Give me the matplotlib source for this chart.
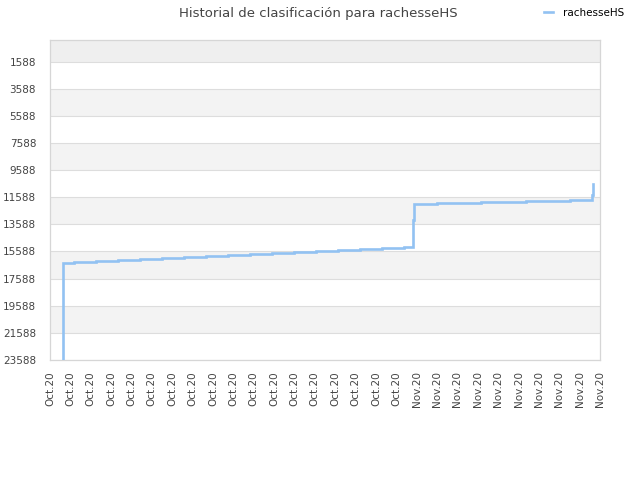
import matplotlib
matplotlib.use("Agg")
import matplotlib.pyplot as plt
import matplotlib.dates as mdates
import pandas as pd

# ---- data ----
dates = [
    "2020-10-14 14:55", "2020-10-14 15:00", "2020-10-15 04:15", "2020-10-16 06:10",
    "2020-10-17 08:07", "2020-10-18 10:02", "2020-10-19 11:57", "2020-10-20 13:52",
    "2020-10-21 15:48", "2020-10-22 17:43", "2020-10-23 19:38", "2020-10-24 21:33",
    "2020-10-25 23:28", "2020-10-27 01:24", "2020-10-28 03:19", "2020-10-29 05:14",
    "2020-10-30 07:09", "2020-10-31 09:04", "2020-10-31 19:26", "2020-10-31 20:24",
    "2020-11-01 23:31", "2020-11-04 03:50", "2020-11-06 08:24", "2020-11-08 12:43",
    "2020-11-09 14:38", "2020-11-09 15:50",
]
ranks = [
    23588, 16428, 16350, 16280,
    16205, 16130, 16058, 15985,
    15910, 15838, 15765, 15690,
    15618, 15545, 15470, 15398,
    15322, 15250, 13253, 12094,
    12020, 11946, 11872, 11798,
    11408, 10595,
]
series_name = "rachesseHS"
title = "Historial de clasificación para rachesseHS"
y_ticks = [1588, 3588, 5588, 7588, 9588, 11588, 13588, 15588, 17588, 19588, 21588, 23588]
x_start = "2020-10-14"
x_end = "2020-11-10"

# ---- figure ----
fig = plt.figure(figsize=(6.4, 4.8), dpi=100)
ax = fig.add_axes([50 / 640, 1 - 360 / 480, 550 / 640, 320 / 480])

x = pd.to_datetime(dates)
ax.plot(x, ranks, drawstyle="steps-post", color="#92c2f2", lw=1.9,
        label=series_name, solid_joinstyle="miter", zorder=3)

ax.set_ylim(23588, 0)
xs = pd.Timestamp(x_start)
xe = pd.Timestamp(x_end)
ax.set_xlim(xs, xe)

# alternating bands
bounds = [0] + y_ticks
for i in range(len(bounds) - 1):
    if i == 0:
        c = "#efefef"
    elif i % 2 == 0:
        c = "#f3f3f3"
    else:
        c = "#ffffff"
    ax.axhspan(bounds[i], bounds[i + 1], color=c, zorder=0, lw=0)

ax.set_yticks(y_ticks)
ax.set_yticklabels([str(v) for v in y_ticks])
ax.yaxis.grid(True, color="#dddddd", lw=0.8, zorder=1)
ax.set_axisbelow(True)

ax.set_xticks(pd.date_range(xs, xe, freq="D"))
ax.xaxis.set_major_formatter(mdates.DateFormatter("%b.%y"))
for lab in ax.get_xticklabels():
    lab.set_rotation(90)

ax.tick_params(axis="both", length=0, labelsize=7.5, colors="#444444")
ax.tick_params(axis="y", pad=10)
ax.tick_params(axis="x", pad=8)

for s in ax.spines.values():
    s.set_color("#d6d6d6")
    s.set_linewidth(0.9)

fig.text(0.497, 1 - 13 / 480, title, ha="center", va="center",
         fontsize=9.5, color="#444444")

leg = fig.legend(loc="center", bbox_to_anchor=(584 / 640, 1 - 13 / 480),
                 frameon=False, fontsize=7.5, handlelength=0.9,
                 handletextpad=0.9, borderaxespad=0)

fig.savefig("out.png", dpi=100)
